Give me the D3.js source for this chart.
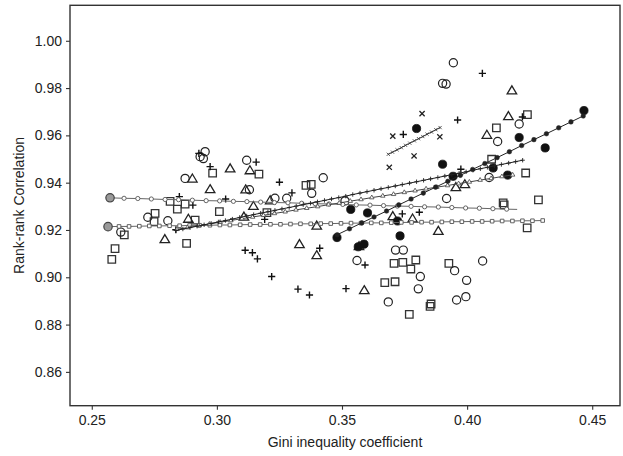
<!DOCTYPE html>
<html><head><meta charset="utf-8">
<script src="https://cdn.jsdelivr.net/npm/d3@7"></script>
<style>body{margin:0;background:#fff}svg{display:block}text{font-family:"Liberation Sans",Arial,sans-serif}</style>
</head><body><svg id="c" width="623" height="456"></svg>
<script>
// ---------- data ----------
const xTicks = [0.25, 0.30, 0.35, 0.40, 0.45];
const yTicks = [0.86, 0.88, 0.90, 0.92, 0.94, 0.96, 0.98, 1.00];
const xTitle = "Gini inequality coefficient";
const yTitle = "Rank-rank Correlation";

// open circles
const circX = [0.3945,0.3902,0.3916,0.4208,0.4122,0.4088,0.3918,0.2953,0.2933,0.2946,0.2873,0.3119,0.3130,0.3232,0.3279,0.3379,0.3425,0.3512,0.2724,0.2804,0.2616,0.3560,0.3714,0.3745,0.3813,0.3805,0.3685,0.3950,0.3998,0.3995,0.3958,0.4062];
const circY = [0.9907,0.9820,0.9817,0.9648,0.9574,0.9422,0.9333,0.9531,0.9510,0.9502,0.9418,0.9495,0.9370,0.9334,0.9334,0.9355,0.9421,0.9323,0.9254,0.9239,0.9191,0.9071,0.9115,0.9115,0.9003,0.8951,0.8896,0.9028,0.8987,0.8918,0.8904,0.9069];
// open squares
const sqX = [0.4241,0.4117,0.4098,0.4234,0.4285,0.4144,0.4148,0.4240,0.2983,0.3168,0.3356,0.3377,0.3010,0.3200,0.2813,0.2842,0.2873,0.2753,0.2749,0.2913,0.2879,0.2630,0.2593,0.2580,0.3671,0.3712,0.3708,0.3743,0.3775,0.3795,0.3927,0.3769,0.3856,0.3852];
const sqY = [0.9688,0.9632,0.9499,0.9441,0.9327,0.9315,0.9306,0.9209,0.9440,0.9436,0.9389,0.9393,0.9278,0.9273,0.9321,0.9288,0.9309,0.9270,0.9235,0.9242,0.9143,0.9179,0.9121,0.9076,0.8977,0.8981,0.9059,0.9063,0.9035,0.9073,0.9059,0.8843,0.8887,0.8877];
// open triangles
const triX = [0.4179,0.4165,0.4079,0.3955,0.3991,0.3885,0.3703,0.3782,0.3589,0.3568,0.3330,0.3399,0.3399,0.3146,0.3108,0.3115,0.3132,0.3053,0.2973,0.2902,0.2886,0.2792,0.3213];
const triY = [0.9787,0.9678,0.9599,0.9378,0.9390,0.9193,0.9255,0.9245,0.8942,0.9128,0.9137,0.9090,0.9215,0.9298,0.9253,0.9368,0.9449,0.9457,0.9369,0.9414,0.9244,0.9158,0.9322];
// plus signs
const plusX = [0.4061,0.3962,0.4221,0.3745,0.2928,0.2973,0.3157,0.3250,0.3300,0.3035,0.2850,0.2904,0.2836,0.3191,0.3113,0.3142,0.3162,0.3219,0.3324,0.3370,0.3516,0.3411,0.3592,0.3741,0.3809,0.3975];
const plusY = [0.9862,0.9665,0.9678,0.9604,0.9524,0.9468,0.9487,0.9402,0.9357,0.9331,0.9341,0.9305,0.9201,0.9245,0.9114,0.9104,0.9078,0.9003,0.8950,0.8925,0.8952,0.9123,0.9052,0.9268,0.9275,0.9457];
// filled circles
const dotX = [0.4467,0.3798,0.4208,0.4312,0.3902,0.3944,0.4104,0.4162,0.3535,0.3602,0.3480,0.3565,0.3588,0.3722,0.3732];
const dotY = [0.9705,0.9629,0.9591,0.9547,0.9478,0.9427,0.9462,0.9432,0.9287,0.9272,0.9168,0.9129,0.9140,0.9238,0.9175];
// x marks
const timesX = [0.3703,0.3820,0.3891,0.3788,0.3689];
const timesY = [0.9597,0.9692,0.9594,0.9513,0.9465];

// grey anchor circles at the start of two fitted lines
const anchorX = [0.2573, 0.2565];
const anchorY = [0.9336, 0.9214];

// fitted line (small open circles)
const circLineX = [0.2629,0.2684,0.2738,0.2793,0.2847,0.2902,0.2957,0.3011,0.3066,0.3120,0.3175,0.3230,0.3284,0.3339,0.3393,0.3448,0.3503,0.3557,0.3612,0.3666,0.3721,0.3776,0.3830,0.3885,0.3939,0.3994,0.4049,0.4103,0.4158];
const circLineY = [0.9334,0.9333,0.9331,0.9329,0.9328,0.9326,0.9324,0.9323,0.9321,0.9320,0.9318,0.9316,0.9315,0.9313,0.9311,0.9310,0.9308,0.9306,0.9305,0.9303,0.9301,0.9300,0.9298,0.9297,0.9295,0.9293,0.9292,0.9290,0.9288];
const circLineEndX = [0.4200];
const circLineEndY = [0.9287];
// fitted line (small open squares)
const sqLineX = [0.2609,0.2649,0.2690,0.2730,0.2770,0.2811,0.2851,0.2891,0.2931,0.2972,0.3012,0.3052,0.3093,0.3133,0.3173,0.3214,0.3254,0.3294,0.3334,0.3375,0.3415,0.3455,0.3496,0.3536,0.3576,0.3617,0.3657,0.3697,0.3737,0.3778,0.3818,0.3858,0.3899,0.3939,0.3979,0.4020,0.4060,0.4100,0.4140,0.4181,0.4221,0.4261,0.4302];
const sqLineY = [0.9215,0.9215,0.9216,0.9217,0.9217,0.9218,0.9218,0.9219,0.9220,0.9220,0.9221,0.9221,0.9222,0.9223,0.9223,0.9224,0.9224,0.9225,0.9226,0.9226,0.9227,0.9227,0.9228,0.9229,0.9229,0.9230,0.9230,0.9231,0.9232,0.9232,0.9233,0.9233,0.9234,0.9235,0.9235,0.9236,0.9236,0.9237,0.9238,0.9238,0.9239,0.9239,0.9240];
// fitted line (small open triangles)
const triLineX = [0.2840,0.2883,0.2927,0.2970,0.3013,0.3056,0.3100,0.3143,0.3186,0.3230,0.3273,0.3316,0.3359,0.3403,0.3446,0.3489,0.3533,0.3576,0.3619,0.3663,0.3706,0.3749,0.3792,0.3836,0.3879,0.3922,0.3966,0.4009,0.4052,0.4096,0.4139,0.4182];
const triLineY = [0.9203,0.9210,0.9218,0.9225,0.9233,0.9240,0.9248,0.9255,0.9262,0.9270,0.9277,0.9285,0.9292,0.9299,0.9307,0.9314,0.9322,0.9329,0.9337,0.9344,0.9351,0.9359,0.9366,0.9374,0.9381,0.9388,0.9396,0.9403,0.9411,0.9418,0.9426,0.9433];
// fitted line (small plus signs)
const plusLineX = [0.2836,0.2864,0.2893,0.2921,0.2949,0.2977,0.3006,0.3034,0.3062,0.3091,0.3119,0.3147,0.3175,0.3204,0.3232,0.3260,0.3289,0.3317,0.3345,0.3374,0.3402,0.3430,0.3458,0.3487,0.3515,0.3543,0.3572,0.3600,0.3628,0.3656,0.3685,0.3713,0.3741,0.3770,0.3798,0.3826,0.3854,0.3883,0.3911,0.3939,0.3968,0.3996,0.4024,0.4053,0.4081,0.4109,0.4137,0.4166,0.4194,0.4222];
const plusLineY = [0.9198,0.9204,0.9210,0.9216,0.9222,0.9228,0.9234,0.9240,0.9246,0.9253,0.9259,0.9265,0.9271,0.9277,0.9283,0.9289,0.9295,0.9301,0.9307,0.9313,0.9319,0.9325,0.9331,0.9337,0.9343,0.9350,0.9356,0.9362,0.9368,0.9374,0.9380,0.9386,0.9392,0.9398,0.9404,0.9410,0.9416,0.9422,0.9428,0.9434,0.9440,0.9446,0.9453,0.9459,0.9465,0.9471,0.9477,0.9483,0.9489,0.9495];
// fitted line (small filled circles)
const dotLineX = [0.3481,0.3530,0.3579,0.3628,0.3678,0.3727,0.3776,0.3825,0.3874,0.3923,0.3973,0.4022,0.4071,0.4120,0.4169,0.4218,0.4267,0.4317,0.4366,0.4415,0.4464];
const dotLineY = [0.9180,0.9205,0.9230,0.9255,0.9280,0.9306,0.9331,0.9356,0.9381,0.9406,0.9431,0.9456,0.9481,0.9506,0.9531,0.9557,0.9582,0.9607,0.9632,0.9657,0.9682];
// fitted line (small x marks)
const timesLineX = [0.3685,0.3702,0.3720,0.3737,0.3754,0.3771,0.3789,0.3806,0.3823,0.3840,0.3858,0.3875,0.3892];
const timesLineY = [0.9520,0.9529,0.9539,0.9548,0.9558,0.9567,0.9577,0.9586,0.9595,0.9605,0.9614,0.9624,0.9633];

// ---------- drawing ----------
const W = 623, H = 456;
const L = 70, R = 620, T = 5.3, B = 405.7;
const svg = d3.select("#c");
const x = d3.scaleLinear().domain([0.2413, 0.4611]).range([L, R]);
const y = d3.scaleLinear().domain([0.8457, 1.015]).range([B, T]);
const zip = (xs, ys) => xs.map((v, i) => [v, ys[i]]);
const INK = "#222";

// axes
const xAxis = svg.append("g").attr("transform", `translate(0,${B})`)
  .call(d3.axisBottom(x).tickValues(xTicks).tickFormat(d3.format(".2f")).tickSize(4).tickSizeOuter(0).tickPadding(5));
const yAxis = svg.append("g").attr("transform", `translate(${L},0)`)
  .call(d3.axisLeft(y).tickValues(yTicks).tickFormat(d3.format(".2f")).tickSize(4).tickSizeOuter(0).tickPadding(4));
[xAxis, yAxis].forEach(g => {
  g.select(".domain").remove();
  g.selectAll(".tick line").attr("stroke", "#333").attr("stroke-width", 1.1);
  g.selectAll(".tick text").attr("fill", "#222").style("font-size", "14px")
    .style("font-family", '"Liberation Sans", Arial, sans-serif');
});
svg.append("rect").attr("x", L).attr("y", T).attr("width", R - L).attr("height", B - T)
  .attr("fill", "none").attr("stroke", "#333").attr("stroke-width", 1.4);

svg.append("text").attr("x", (L + R) / 2).attr("y", 447).attr("text-anchor", "middle")
  .attr("fill", "#222").style("font-size", "14px").text(xTitle);
svg.append("text").attr("transform", `translate(24,${(T + B) / 2}) rotate(-90)`).attr("text-anchor", "middle")
  .attr("fill", "#222").style("font-size", "14px").text(yTitle);

// marker shapes
const sq = s => `M${-s/2},${-s/2}h${s}v${s}h${-s}Z`;
const tri = (w, h) => `M0,${-h*2/3}L${w/2},${h/3}L${-w/2},${h/3}Z`;
const plus = a => `M${-a},0H${a}M0,${-a}V${a}`;
const times = a => `M${-a},${-a}L${a},${a}M${-a},${a}L${a},${-a}`;

const plot = svg.append("g");
function pathPts(data, d, fill, stroke, sw) {
  plot.append("g").selectAll("path").data(data).join("path")
    .attr("transform", p => `translate(${x(p[0])},${y(p[1])})`)
    .attr("d", d).attr("fill", fill).attr("stroke", stroke).attr("stroke-width", sw);
}
function circPts(data, r, fill, stroke, sw) {
  plot.append("g").selectAll("circle").data(data).join("circle")
    .attr("cx", p => x(p[0])).attr("cy", p => y(p[1])).attr("r", r)
    .attr("fill", fill).attr("stroke", stroke).attr("stroke-width", sw);
}
const line = d3.line().x(p => x(p[0])).y(p => y(p[1]));
function drawLine(data, stroke, sw) {
  plot.append("path").datum(data).attr("d", line).attr("fill", "none").attr("stroke", stroke).attr("stroke-width", sw);
}

// scatter
pathPts(zip(sqX, sqY), sq(7.5), "none", "#333", 1.3);
pathPts(zip(triX, triY), tri(9.5, 8), "none", "#222", 1.3);
circPts(zip(circX, circY), 4.1, "none", "#222", 1.2);
pathPts(zip(plusX, plusY), plus(3.6), "none", "#111", 1.4);
pathPts(zip(timesX, timesY), times(2.6), "none", "#222", 1.3);
circPts(zip(dotX, dotY), 4.1, "#111", "#111", 0.8);

// fitted lines with markers
const anchors = zip(anchorX, anchorY);
drawLine([anchors[1]].concat(zip(sqLineX, sqLineY)), "#666", 1);
pathPts(zip(sqLineX, sqLineY), sq(3.6), "#fff", "#555", 0.9);
drawLine([anchors[0]].concat(zip(circLineX, circLineY), zip(circLineEndX, circLineEndY)), "#666", 1);
circPts(zip(circLineX, circLineY), 2.1, "#fff", "#555", 0.9);
drawLine(zip(triLineX, triLineY), "#444", 1);
pathPts(zip(triLineX, triLineY), tri(4.5, 3.8), "#fff", "#444", 0.8);
drawLine(zip(plusLineX, plusLineY), "#222", 1);
pathPts(zip(plusLineX, plusLineY), plus(2.2), "none", "#222", 0.9);
drawLine(zip(dotLineX, dotLineY), "#222", 1);
circPts(zip(dotLineX, dotLineY), 2.3, "#222", "#222", 0.5);
drawLine(zip(timesLineX, timesLineY), "#333", 1);
pathPts(zip(timesLineX, timesLineY), times(1.6), "none", "#333", 0.8);
circPts(anchors, 4.2, "#9a9a9a", "#444", 1.2);
</script></body></html>
